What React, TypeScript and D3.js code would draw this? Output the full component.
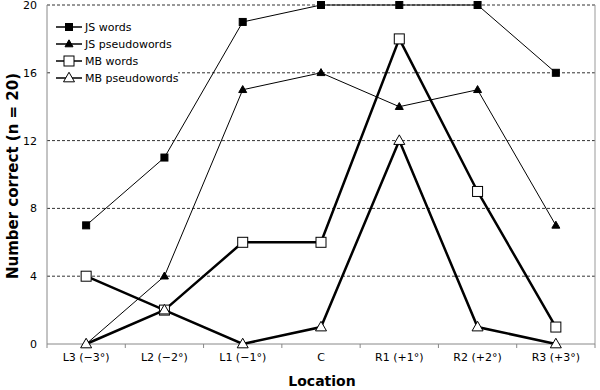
import React from "react";
import * as d3 from "d3";

// values
const locations = ["L3 (\u22123\u00b0)", "L2 (\u22122\u00b0)", "L1 (\u22121\u00b0)", "C", "R1 (+1\u00b0)", "R2 (+2\u00b0)", "R3 (+3\u00b0)"];
const jsWords = [7, 11, 19, 20, 20, 20, 16];
const jsPseudo = [0, 4, 15, 16, 14, 15, 7];
const mbWords = [4, 2, 6, 6, 18, 9, 1];
const mbPseudo = [0, 2, 0, 1, 12, 1, 0];
const yTicks = [0, 4, 8, 12, 16, 20];

const series = [
    { name: "JS words", values: jsWords, marker: "square", fill: "#000", width: 1 },
    { name: "JS pseudowords", values: jsPseudo, marker: "triangle", fill: "#000", width: 1 },
    { name: "MB words", values: mbWords, marker: "square", fill: "#fff", width: 2.5 },
    { name: "MB pseudowords", values: mbPseudo, marker: "triangle", fill: "#fff", width: 2.5 },
];

const font = "Verdana, 'DejaVu Sans', sans-serif";

function Marker({ kind, x, y, fill }: { kind: string; x: number; y: number; fill: string }) {
    if (kind === "square") {
        const s = fill === "#000" ? 7 : 10;
        return <rect x={x - s / 2} y={y - s / 2} width={s} height={s} fill={fill} stroke="#000" strokeWidth={1} />;
    }
    const s = fill === "#000" ? 8 : 11;
    const h = s * 0.87;
    return (
        <path
            d={`M${x},${y - h * 0.6}L${x + s / 2},${y + h * 0.4}L${x - s / 2},${y + h * 0.4}Z`}
            fill={fill}
            stroke="#000"
            strokeWidth={1}
        />
    );
}

export default function App() {
    const left = 47, right = 595, top = 5, bottom = 344;

    const x = d3.scaleBand().domain(locations).range([left, right]);
    const cx = (i: number) => (x(locations[i]) as number) + x.bandwidth() / 2;
    const y = d3.scaleLinear().domain([0, 20]).range([bottom, top]);

    const line = d3.line<number>()
        .x((d, i) => cx(i))
        .y((d) => y(d));

    const boundaries = locations.map((d) => x(d) as number).concat([right]);

    return (
        <svg width={600} height={390} style={{ position: "absolute", left: 0, top: 0, background: "#fff" }}>
            {/* grid */}
            {yTicks.filter((t) => t > 0).map((t) => (
                <line key={t} x1={left} x2={right} y1={y(t)} y2={y(t)} stroke="#333" strokeWidth={1} strokeDasharray="3,2" />
            ))}
            <line x1={right} x2={right} y1={top} y2={bottom} stroke="#999" strokeWidth={1} />
            {/* axes */}
            <line x1={left} x2={left} y1={top} y2={bottom} stroke="#888" strokeWidth={1} />
            <line x1={left} x2={right} y1={bottom} y2={bottom} stroke="#888" strokeWidth={1} />
            {boundaries.map((b, i) => (
                <line key={i} x1={b} x2={b} y1={bottom} y2={bottom + 4} stroke="#888" strokeWidth={1} />
            ))}
            {yTicks.map((t) => (
                <text key={t} x={37} y={y(t) + 4} textAnchor="end" fontFamily={font} fontSize={11}>{t}</text>
            ))}
            {locations.map((l, i) => (
                <text key={l} x={cx(i)} y={361} textAnchor="middle" fontFamily={font} fontSize={11}>{l}</text>
            ))}
            <text x={322} y={386} textAnchor="middle" fontFamily={font} fontSize={14} fontWeight="bold">Location</text>
            <text transform="translate(18,176) rotate(-90)" textAnchor="middle" fontFamily={font} fontSize={15} fontWeight="bold">
                Number correct (n = 20)
            </text>

            {/* series */}
            {series.map((s) => (
                <g key={s.name}>
                    <path d={line(s.values) as string} fill="none" stroke="#000" strokeWidth={s.width} />
                    {s.values.map((v, i) => (
                        <Marker key={i} kind={s.marker} x={cx(i)} y={y(v)} fill={s.fill} />
                    ))}
                </g>
            ))}

            {/* legend */}
            <rect x={52} y={17} width={126} height={70} fill="#fff" />
            {series.map((s, i) => {
                const ly = 27 + i * 17;
                return (
                    <g key={s.name}>
                        <line x1={56} x2={82} y1={ly} y2={ly} stroke="#000" strokeWidth={1.5} />
                        <Marker kind={s.marker} x={69} y={ly} fill={s.fill} />
                        <text x={85} y={ly + 4} fontFamily={font} fontSize={11}>{s.name}</text>
                    </g>
                );
            })}
        </svg>
    );
}
